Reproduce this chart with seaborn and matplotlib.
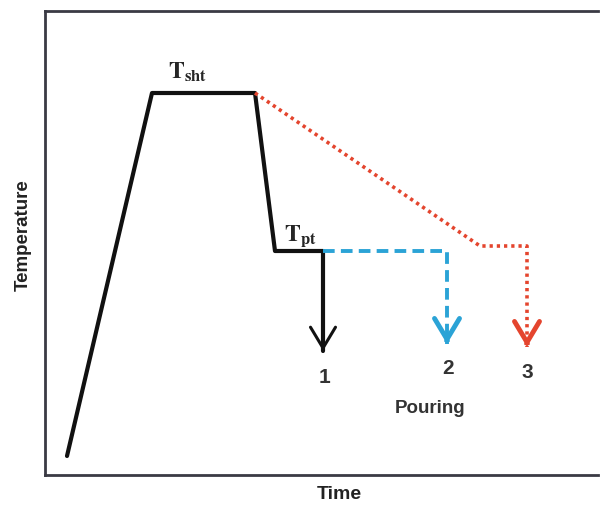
import matplotlib
matplotlib.use("Agg")
import matplotlib.pyplot as plt
import seaborn as sns
import pandas as pd
from matplotlib.patches import FancyArrowPatch

# --- dados (unidades arbitrarias: tempo x temperatura) ---
tempo_preto = [22, 107, 210, 230, 278, 278]
temp_preto = [19, 382, 382, 224, 224, 124]

tempo_azul = [278, 402, 402]
temp_azul = [224, 224, 131]

tempo_verm = [210, 435, 482, 482]
temp_verm = [382, 229, 229, 128]

rotulos_vazamento = ["1", "2", "3"]
x_vazamento = [279, 403, 482]
y_vazamento = [98, 108, 103]

preto = "#111111"
azul = "#2ba3d6"
vermelho = "#e4452e"

sns.set_style("white")
plt.rcParams["font.family"] = ["Liberation Sans", "DejaVu Sans"]
plt.rcParams["mathtext.fontset"] = "stix"

fig = plt.figure(figsize=(6.03, 5.06), dpi=100)
ax = fig.add_axes([45 / 603, 30 / 506, 553 / 603, 464 / 506])

df_preto = pd.DataFrame({"tempo": tempo_preto, "temp": temp_preto})
df_azul = pd.DataFrame({"tempo": tempo_azul, "temp": temp_azul})
df_verm = pd.DataFrame({"tempo": tempo_verm, "temp": temp_verm})

sns.lineplot(data=df_preto, x="tempo", y="temp", sort=False, estimator=None,
             color=preto, lw=3, ax=ax)
sns.lineplot(data=df_azul, x="tempo", y="temp", sort=False, estimator=None,
             color=azul, lw=2.8, ax=ax)
ax.lines[-1].set_dashes([3, 1.6])
sns.lineplot(data=df_verm, x="tempo", y="temp", sort=False, estimator=None,
             color=vermelho, lw=2.6, ax=ax)
ax.lines[-1].set_dashes([0.9, 1.1])

# pontas de seta (V aberto)
for df, cor, lw in [(df_preto, preto, 2.2), (df_azul, azul, 3.5), (df_verm, vermelho, 3.5)]:
    x_fim, y_fim = df["tempo"].iloc[-1], df["temp"].iloc[-1]
    seta = FancyArrowPatch((x_fim, y_fim + 3), (x_fim, y_fim),
                           arrowstyle="->,head_length=0.75,head_width=0.45",
                           color=cor, lw=lw, shrinkA=0, shrinkB=0,
                           mutation_scale=20, joinstyle="miter")
    ax.add_patch(seta)

ax.text(143, 404, r"$\mathbf{T}_{\mathbf{sht}}$", fontsize=17, ha="center", va="center")
ax.text(255, 240, r"$\mathbf{T}_{\mathbf{pt}}$", fontsize=17, ha="center", va="center")

for rot, x, y in zip(rotulos_vazamento, x_vazamento, y_vazamento):
    ax.text(x, y, rot, fontsize=15, fontweight="bold", color="#333333",
            ha="center", va="center")
ax.text(385, 67, "Pouring", fontsize=13.5, fontweight="bold", color="#333333",
        ha="center", va="center")

ax.set_xlim(0, 553)
ax.set_ylim(0, 464)
ax.set_xticks([])
ax.set_yticks([])
ax.set_xlabel("Time", fontsize=14, fontweight="bold", color="#222222")
ax.set_ylabel("Temperature", fontsize=13.5, fontweight="bold", color="#222222")
ax.xaxis.set_label_coords(0.533, -0.022)
ax.yaxis.set_label_coords(-0.024, 0.52)

for lado in ["left", "top", "bottom"]:
    ax.spines[lado].set_color("#3a3a44")
    ax.spines[lado].set_linewidth(2)
ax.spines["right"].set_visible(False)

fig.savefig("out.png", dpi=100)
